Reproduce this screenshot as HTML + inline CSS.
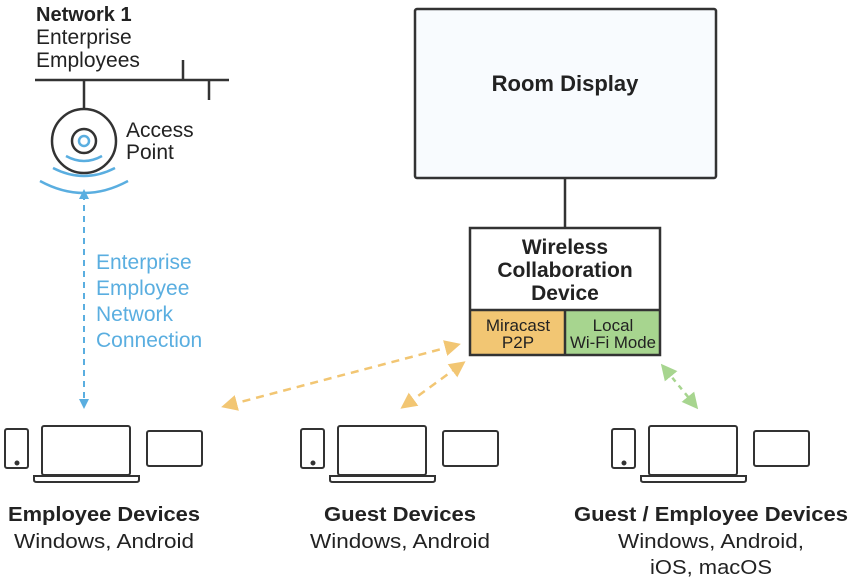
<!DOCTYPE html>
<html><head><meta charset="utf-8"><style>
html,body{margin:0;padding:0;background:#fff;}
svg{display:block;font-family:"Liberation Sans",sans-serif;}
</style></head><body>
<svg width="850" height="583" viewBox="0 0 850 583" xmlns="http://www.w3.org/2000/svg">
<defs>
<marker id="ab" viewBox="0 0 10 10" refX="5" refY="5" markerWidth="5" markerHeight="5" orient="auto-start-reverse"><path d="M0,0L10,5L0,10z" fill="#5aaee0"/></marker>
<marker id="ao" viewBox="0 0 10 10" refX="5" refY="5" markerWidth="6.5" markerHeight="6.5" orient="auto-start-reverse"><path d="M0,0L10,5L0,10z" fill="#f2c673"/></marker>
<marker id="ag" viewBox="0 0 10 10" refX="5" refY="5" markerWidth="6.5" markerHeight="6.5" orient="auto-start-reverse"><path d="M0,0L10,5L0,10z" fill="#a7d58f"/></marker>
<g id="dev" fill="none" stroke="#333" stroke-width="2">
<rect x="5" y="429" width="23" height="39" rx="2"/>
<circle cx="17" cy="463" r="1.5" fill="#333"/>
<rect x="42" y="426" width="88" height="49" rx="2"/>
<path d="M34,476 H139 V480 Q139,482 136,482 H37 Q34,482 34,480 Z"/>
<rect x="147" y="431" width="55" height="35" rx="2"/>
</g>
</defs>
<g fill="#222" font-size="21">
<text x="36" y="21" font-weight="bold" font-size="20">Network 1</text>
<text x="36" y="44">Enterprise</text>
<text x="36" y="67">Employees</text>
<text x="126" y="137">Access</text>
<text x="126" y="159">Point</text>
</g>
<g stroke="#333" stroke-width="2.5" fill="none">
<line x1="35" y1="80" x2="229" y2="80"/>
<line x1="183" y1="60" x2="183" y2="80"/>
<line x1="209" y1="80" x2="209" y2="100"/>
<line x1="84" y1="80" x2="84" y2="109"/>
<circle cx="84" cy="141" r="32"/>
<circle cx="84" cy="141" r="12"/>
</g>
<g stroke="#5aaee0" stroke-width="2.5" fill="none">
<circle cx="84" cy="141" r="5"/>
<path d="M66,156 Q84,166 102,156"/>
<path d="M53,168 Q84,184 115,168"/>
<path d="M40,181 Q84,205 128,181"/>
<line x1="84" y1="194" x2="84" y2="404" stroke-dasharray="6,5" stroke-width="2" marker-start="url(#ab)" marker-end="url(#ab)"/>
</g>
<g fill="#5aaee0" font-size="21">
<text x="96" y="269">Enterprise</text>
<text x="96" y="295">Employee</text>
<text x="96" y="321">Network</text>
<text x="96" y="347">Connection</text>
</g>
<rect x="415" y="9" width="301" height="169" rx="2" fill="#f8fbfe" stroke="#333" stroke-width="2.5"/>
<text x="565" y="91" text-anchor="middle" font-size="22" font-weight="bold" fill="#222">Room Display</text>
<line x1="565" y1="178" x2="565" y2="228" stroke="#333" stroke-width="2.5"/>
<rect x="470" y="310" width="95" height="45" fill="#f2c673"/>
<rect x="565" y="310" width="95" height="45" fill="#a7d58f"/>
<rect x="470" y="228" width="190" height="127" fill="none" stroke="#333" stroke-width="2.5"/>
<line x1="470" y1="310" x2="660" y2="310" stroke="#333" stroke-width="2.5"/>
<line x1="565" y1="310" x2="565" y2="355" stroke="#333" stroke-width="2.5"/>
<g fill="#222" font-size="21" font-weight="bold" text-anchor="middle">
<text x="565" y="254">Wireless</text>
<text x="565" y="277">Collaboration</text>
<text x="565" y="300">Device</text>
</g>
<g fill="#222" font-size="17" text-anchor="middle">
<text x="518" y="331">Miracast</text>
<text x="518" y="348">P2P</text>
<text x="613" y="331">Local</text>
<text x="613" y="348" textLength="86" lengthAdjust="spacingAndGlyphs">Wi-Fi Mode</text>
</g>
<g stroke-width="2.5" fill="none" stroke-dasharray="8,6">
<line x1="229" y1="405" x2="453" y2="346" stroke="#f2c673" marker-start="url(#ao)" marker-end="url(#ao)"/>
<line x1="407" y1="404" x2="459" y2="366" stroke="#f2c673" marker-start="url(#ao)" marker-end="url(#ao)"/>
<line x1="666" y1="370" x2="693" y2="403" stroke="#a7d58f" stroke-dasharray="5,5" marker-start="url(#ag)" marker-end="url(#ag)"/>
</g>
<use href="#dev"/>
<use href="#dev" x="296"/>
<use href="#dev" x="607"/>
<g fill="#222" font-size="20" text-anchor="middle">
<text x="104" y="521" font-weight="bold" textLength="192" lengthAdjust="spacingAndGlyphs">Employee Devices</text>
<text x="104" y="548" textLength="180" lengthAdjust="spacingAndGlyphs">Windows, Android</text>
<text x="400" y="521" font-weight="bold" textLength="152" lengthAdjust="spacingAndGlyphs">Guest Devices</text>
<text x="400" y="548" textLength="180" lengthAdjust="spacingAndGlyphs">Windows, Android</text>
<text x="711" y="521" font-weight="bold" textLength="274" lengthAdjust="spacingAndGlyphs">Guest / Employee Devices</text>
<text x="711" y="548" textLength="186" lengthAdjust="spacingAndGlyphs">Windows, Android,</text>
<text x="711" y="574" textLength="122" lengthAdjust="spacingAndGlyphs">iOS, macOS</text>
</g>
</svg>
</body></html>
